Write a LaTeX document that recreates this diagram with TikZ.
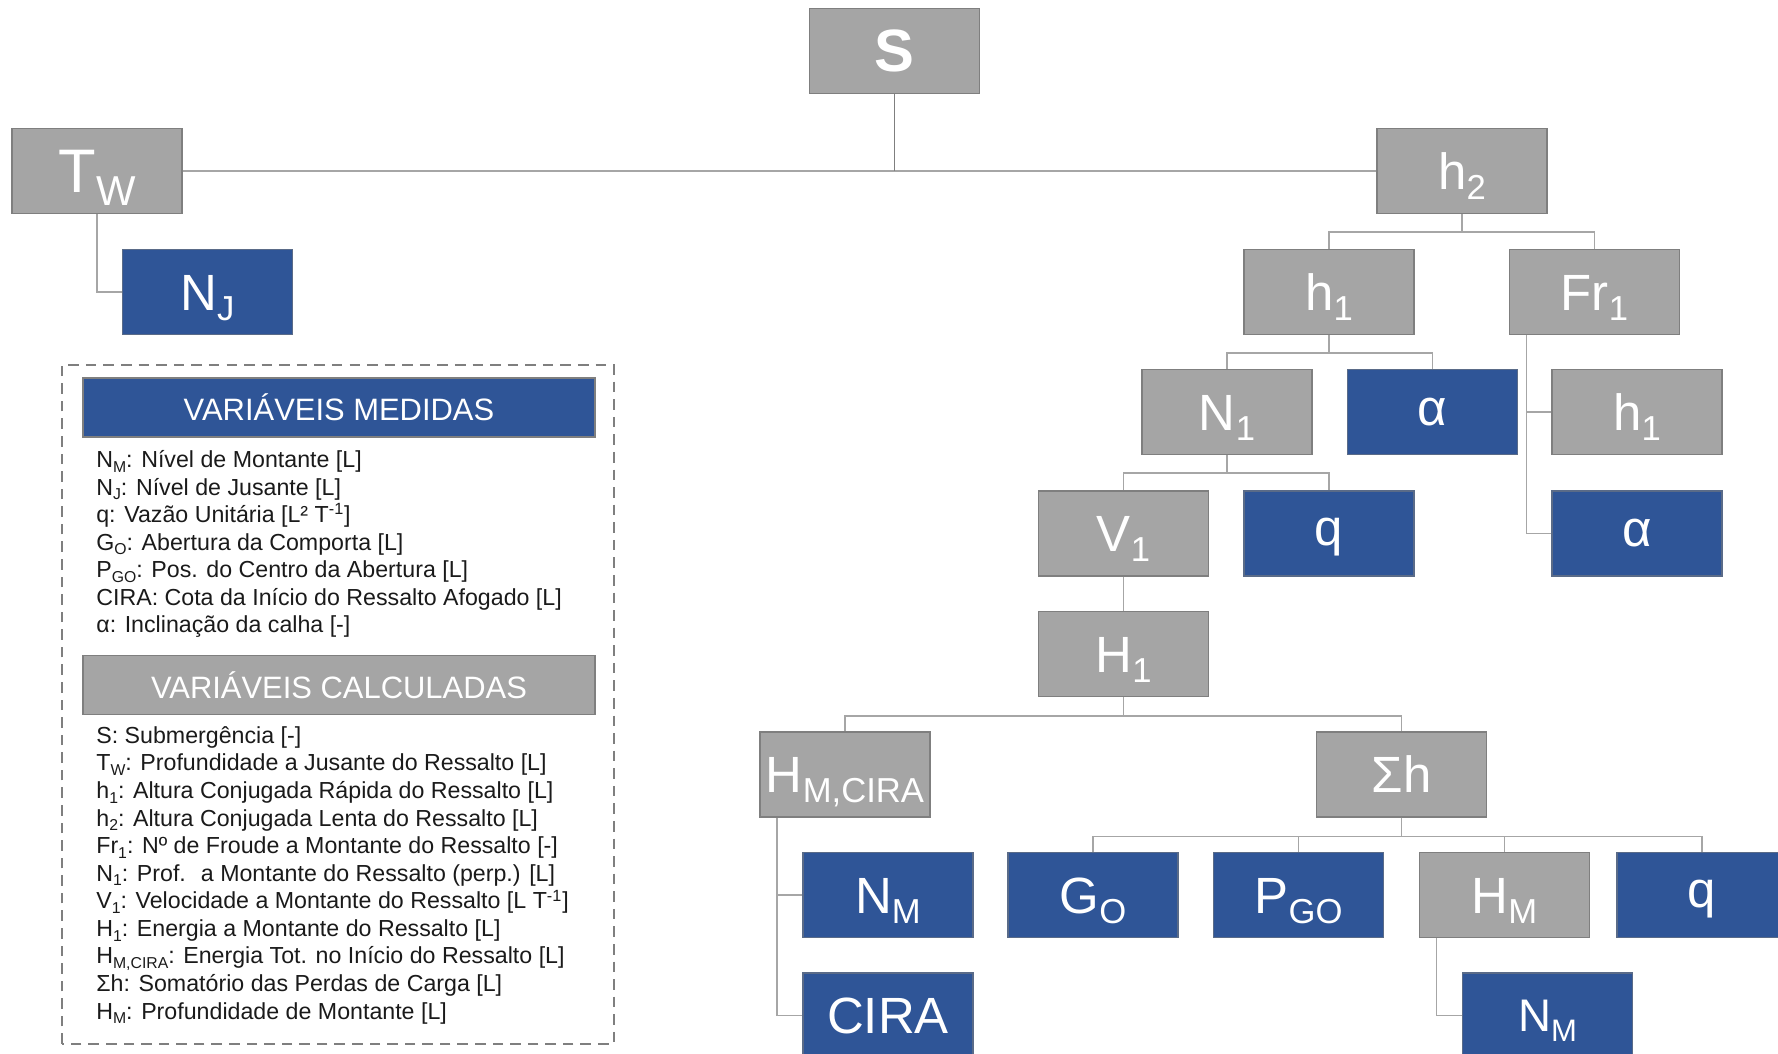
\documentclass[tikz,border=0pt]{standalone}
\usepackage{fontspec}
\setmainfont{Liberation Sans}
\usetikzlibrary{positioning}
\definecolor{calcgray}{HTML}{A5A5A5}
\definecolor{calcedge}{HTML}{7F7F7F}
\definecolor{measblue}{HTML}{2F5597}
\definecolor{measedge}{HTML}{5A6B88}
\definecolor{linkgray}{HTML}{A6A6A6}
\definecolor{framegray}{HTML}{7F7F7F}
\definecolor{legtext}{HTML}{1A1A1A}
\newcommand{\lowr}[1]{\raisebox{-0.2em}{\scalebox{0.68}{#1}}}

\begin{document}
\begin{tikzpicture}[
  calcbox/.style={rectangle,fill=calcgray,draw=calcedge,line width=0.6pt,
    minimum width=3.4cm,minimum height=1.7cm,inner sep=0pt,text=white,
    font=\fontsize{29}{32}\selectfont},
  measbox/.style={calcbox,fill=measblue,draw=measedge},
  subtxt/.style={text height=20.8pt,text depth=0pt},
  qtxt/.style={text height=20pt,text depth=6pt},
  link/.style={draw=linkgray,line width=1pt},
  header/.style={rectangle,draw=calcedge,line width=0.6pt,minimum width=10.24cm,
    minimum height=1.18cm,inner sep=0pt,text=white,font=\fontsize{17.6}{20}\selectfont},
  legline/.style={align=left,anchor=north west,inner sep=0pt,text=legtext,
    font=\fontsize{13.2}{15.7}\selectfont}]
  \useasboundingbox (0,0) rectangle (35.56,21.08);

  % Top of the tree
  \node[calcbox,font=\fontsize{34}{38}\selectfont\bfseries] (S) at (17.89,20.06) {S};
  \node[calcbox,subtxt,font=\fontsize{35}{38}\selectfont,text height=25pt] (Tw) at (1.94,17.66) {T\lowr{W}};
  \node[calcbox,subtxt] (h2) at (29.24,17.66) {h\lowr{2}};
  \node[measbox,subtxt] (NJ) at (4.15,15.24) {N\lowr{J}};

  % Branch of h2
  \node[calcbox,subtxt] (h1) at (26.58,15.24) {h\lowr{1}};
  \node[calcbox,subtxt] (Fr1) at (31.89,15.24) {Fr\lowr{1}};
  \node[calcbox,subtxt] (N1) at (24.54,12.84) {N\lowr{1}};
  \node[measbox] (alpha1) at (28.65,12.84) {α};
  \node[calcbox,subtxt] (h1b) at (32.74,12.84) {h\lowr{1}};
  \node[calcbox,subtxt] (V1) at (22.47,10.41) {V\lowr{1}};
  \node[measbox,qtxt] (q1) at (26.58,10.41) {q};
  \node[measbox] (alpha2) at (32.74,10.41) {α};
  \node[calcbox,subtxt] (H1) at (22.47,8.0) {H\lowr{1}};

  % Branch of H1
  \node[calcbox,subtxt] (HMC) at (16.90,5.59) {H\lowr{M,CIRA}};
  \node[calcbox] (Sh) at (28.03,5.59) {Σh};
  \node[measbox,subtxt] (NM) at (17.76,3.18) {N\lowr{M}};
  \node[measbox] (CIRA) at (17.76,0.77) {CIRA};
  \node[measbox,subtxt] (GO) at (21.86,3.18) {G\lowr{O}};
  \node[measbox,subtxt] (PGO) at (25.97,3.18) {P\lowr{GO}};
  \node[calcbox,subtxt] (HM) at (30.09,3.18) {H\lowr{M}};
  \node[measbox,qtxt] (q2) at (34.04,3.18) {q};
  \node[measbox,subtxt,font=\fontsize{26}{30}\selectfont,text height=18.7pt] (NM2) at (30.95,0.77) {N\lowr{M}};

  % Connectors
  \draw[link] (Tw.east) -- (h2.west);
  \draw[link,draw=calcedge] (S.south) -- (S.south |- Tw.east);
  \draw[link] (Tw.south) |- (NJ.west);
  \foreach \kid in {h1,Fr1} \draw[link] (h2.south) -- ++(0,-0.36) -| (\kid.north);
  \foreach \kid in {N1,alpha1} \draw[link] (h1.south) -- ++(0,-0.36) -| (\kid.north);
  \foreach \kid in {h1b,alpha2} \draw[link] (Fr1.south west) ++(0.35,0) |- (\kid.west);
  \foreach \kid in {V1,q1} \draw[link] (N1.south) -- ++(0,-0.36) -| (\kid.north);
  \draw[link] (V1.south) -- (H1.north);
  \foreach \kid in {HMC,Sh} \draw[link] (H1.south) -- ++(0,-0.38) -| (\kid.north);
  \foreach \kid in {NM,CIRA} \draw[link] (HMC.south west) ++(0.35,0) |- (\kid.west);
  \foreach \kid in {GO,PGO,HM,q2} \draw[link] (Sh.south) -- ++(0,-0.38) -| (\kid.north);
  \draw[link] (HM.south west) ++(0.35,0) |- (NM2.west);

  % Legend
  \draw[framegray,line width=1.1pt,dash pattern=on 6pt off 4pt] (1.24,0.2) rectangle (12.28,13.78);
  \node[header,fill=measblue] (medhead) at (6.78,12.93) {VARIÁVEIS MEDIDAS};
  \node[legline] (medtext) at (1.92,12.08) {%
    N\lowr{M}: Nível de Montante [L]\\
    N\lowr{J}: Nível de Jusante [L]\\
    q: Vazão Unitária [L² T\textsuperscript{-1}]\\
    G\lowr{O}: Abertura da Comporta [L]\\
    P\lowr{GO}: Pos. do Centro da Abertura [L]\\
    CIRA: Cota da Início do Ressalto Afogado [L]\\
    α: Inclinação da calha [-]};
  \node[header,fill=calcgray] (calchead) at (6.78,7.38) {VARIÁVEIS CALCULADAS};
  \node[legline] (calctext) at (1.92,6.56) {%
    S: Submergência [-]\\
    T\lowr{W}: Profundidade a Jusante do Ressalto [L]\\
    h\lowr{1}: Altura Conjugada Rápida do Ressalto [L]\\
    h\lowr{2}: Altura Conjugada Lenta do Ressalto [L]\\
    Fr\lowr{1}: Nº de Froude a Montante do Ressalto [-]\\
    N\lowr{1}: Prof. \ a Montante do Ressalto (perp.) [L]\\
    V\lowr{1}: Velocidade a Montante do Ressalto [L T\textsuperscript{-1}]\\
    H\lowr{1}: Energia a Montante do Ressalto [L]\\
    H\lowr{M,CIRA}: Energia Tot. no Início do Ressalto [L]\\
    Σh: Somatório das Perdas de Carga [L]\\
    H\lowr{M}: Profundidade de Montante [L]};
\end{tikzpicture}
\end{document}
